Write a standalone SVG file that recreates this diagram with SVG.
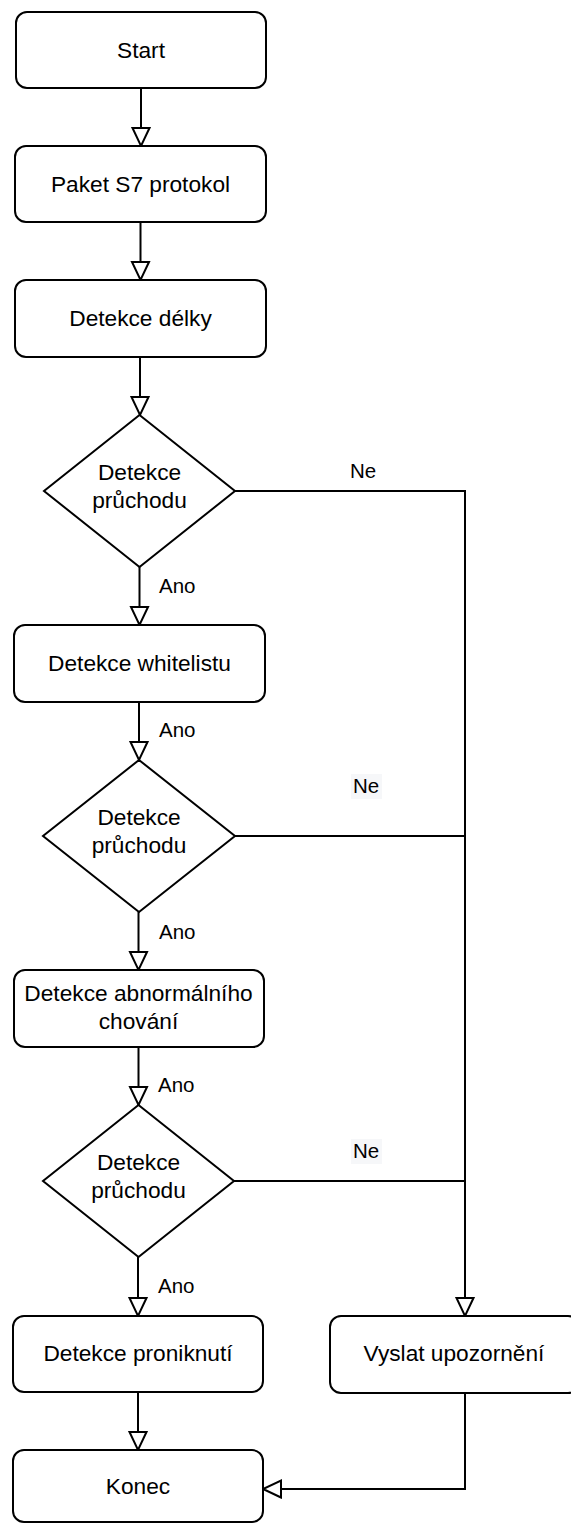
<svg xmlns="http://www.w3.org/2000/svg" width="571" height="1523" viewBox="0 0 571 1523">
  <defs>
    <style>
      .box { fill: #ffffff; stroke: #000000; stroke-width: 2; }
      .lbl { font-family: "Liberation Sans", Arial, sans-serif; font-size: 22.7px; fill: #000000; text-anchor: middle; }
      .edge-lbl { font-family: "Liberation Sans", Arial, sans-serif; font-size: 20.5px; fill: #000000; }
      .wire { fill: none; stroke: #000000; stroke-width: 2; }
      .arrow { marker-end: url(#open-tri); }
      .lbl-bg { fill: #f6f7f9; }
    </style>
    <marker id="open-tri" markerUnits="userSpaceOnUse" markerWidth="22" markerHeight="21" refX="19" refY="9.5" orient="auto" overflow="visible">
      <path d="M1,1 L19,9.5 L1,18 Z" fill="#ffffff" stroke="#000000" stroke-width="2" stroke-linejoin="miter"/>
    </marker>
  </defs>

  <rect width="571" height="1523" fill="#ffffff"/>

  <!-- connectors -->
  <g id="connectors">
    <path class="wire arrow" d="M141,88 L141,146"/>
    <path class="wire arrow" d="M140.5,222 L140.5,280"/>
    <path class="wire arrow" d="M140,357 L140,415"/>
    <path class="wire arrow" d="M139.5,567 L139.5,625"/>
    <path class="wire arrow" d="M139,702 L139,760"/>
    <path class="wire arrow" d="M138.5,912 L138.5,970"/>
    <path class="wire arrow" d="M138.5,1047 L138.5,1105"/>
    <path class="wire arrow" d="M138,1257 L138,1316"/>
    <path class="wire arrow" d="M138,1392 L138,1450"/>
    <!-- "Ne" branches joining the alert path -->
    <path class="wire arrow" d="M235,491 L465,491 L465,1316"/>
    <path class="wire" d="M235,836 L465,836"/>
    <path class="wire" d="M234,1181 L465,1181"/>
    <!-- alert back to end -->
    <path class="wire arrow" d="M465,1393 L465,1489 L263,1489"/>

    <!-- edge labels -->
    <text class="edge-lbl" x="350" y="478">Ne</text>
    <rect class="lbl-bg" x="351" y="774" width="31" height="25"/>
    <text class="edge-lbl" x="353" y="793">Ne</text>
    <rect class="lbl-bg" x="351" y="1139" width="31" height="25"/>
    <text class="edge-lbl" x="353" y="1158">Ne</text>
    <text class="edge-lbl" x="159" y="593">Ano</text>
    <text class="edge-lbl" x="159" y="737">Ano</text>
    <text class="edge-lbl" x="159" y="939">Ano</text>
    <text class="edge-lbl" x="158" y="1092">Ano</text>
    <text class="edge-lbl" x="158" y="1293">Ano</text>
  </g>

  <!-- nodes -->
  <g id="start">
    <rect class="box" x="16" y="12" width="250" height="76" rx="11"/>
    <text class="lbl" x="141" y="58">Start</text>
  </g>
  <g id="paket">
    <rect class="box" x="15" y="146" width="251" height="76" rx="11"/>
    <text class="lbl" x="140.5" y="192">Paket S7 protokol</text>
  </g>
  <g id="delka">
    <rect class="box" x="15" y="280" width="251" height="77" rx="11"/>
    <text class="lbl" x="140.5" y="325.5">Detekce délky</text>
  </g>
  <g id="pruchod1">
    <polygon class="box" points="139.5,415 235,491 139.5,567 44,491"/>
    <text class="lbl" x="139.5" y="480">Detekce</text>
    <text class="lbl" x="139.5" y="508">průchodu</text>
  </g>
  <g id="whitelist">
    <rect class="box" x="14" y="625" width="251" height="77" rx="11"/>
    <text class="lbl" x="139.5" y="670.5">Detekce whitelistu</text>
  </g>
  <g id="pruchod2">
    <polygon class="box" points="139,760 235,836 139,912 43,836"/>
    <text class="lbl" x="139" y="825">Detekce</text>
    <text class="lbl" x="139" y="853">průchodu</text>
  </g>
  <g id="abnormalni">
    <rect class="box" x="14" y="970" width="250" height="77" rx="11"/>
    <text class="lbl" x="138.5" y="1001">Detekce abnormálního</text>
    <text class="lbl" x="138.5" y="1029">chování</text>
  </g>
  <g id="pruchod3">
    <polygon class="box" points="138.5,1105 234,1181 138.5,1257 43,1181"/>
    <text class="lbl" x="138.5" y="1170">Detekce</text>
    <text class="lbl" x="138.5" y="1198">průchodu</text>
  </g>
  <g id="proniknuti">
    <rect class="box" x="13" y="1316" width="250" height="76" rx="11"/>
    <text class="lbl" x="138" y="1361">Detekce proniknutí</text>
  </g>
  <g id="upozorneni">
    <rect class="box" x="330" y="1316" width="249" height="77" rx="11"/>
    <text class="lbl" x="454" y="1361">Vyslat upozornění</text>
  </g>
  <g id="konec">
    <rect class="box" x="13" y="1450" width="250" height="72" rx="11"/>
    <text class="lbl" x="138" y="1494">Konec</text>
  </g>
</svg>
